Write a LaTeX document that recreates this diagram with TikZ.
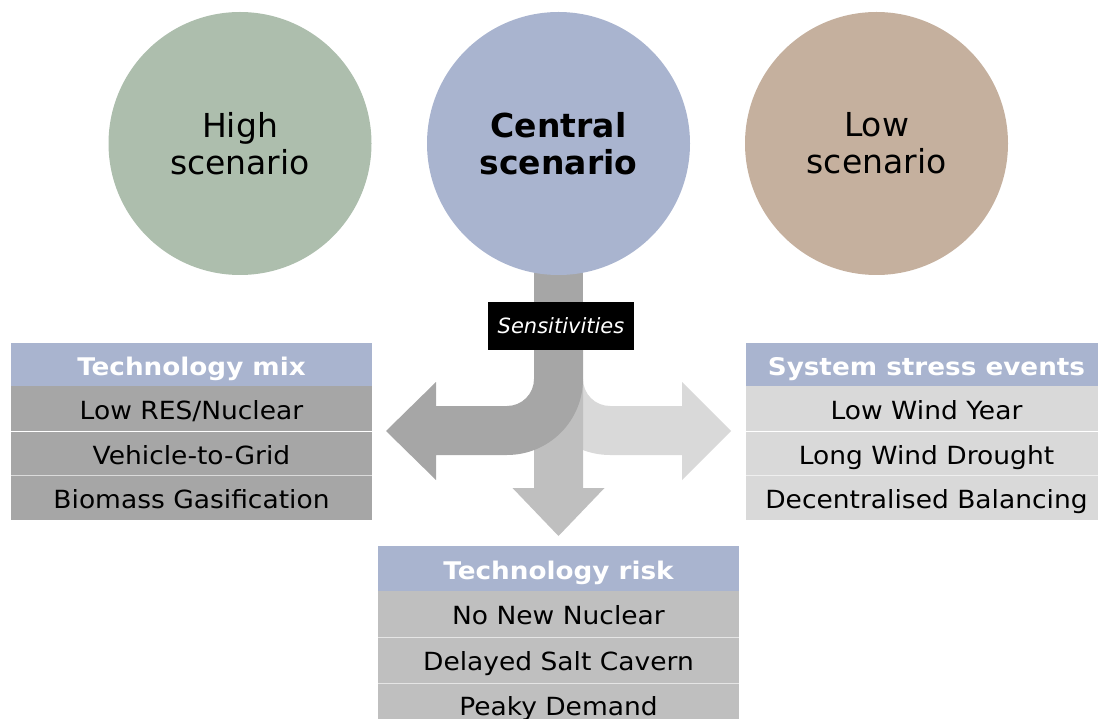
\documentclass[tikz,border=0pt]{standalone}
\usepackage{fontspec}
\setmainfont{DejaVu Sans}
\newfontfamily\rowfont[FakeStretch=1.06]{DejaVu Sans}
\newfontfamily\hdrfont[FakeStretch=1.08]{DejaVu Sans Bold}
\definecolor{highgreen}{HTML}{ADBEAD}
\definecolor{centralblue}{HTML}{A9B4CF}
\definecolor{lowtan}{HTML}{C5B09E}
\definecolor{darkgrey}{HTML}{A6A6A6}
\definecolor{midgrey}{HTML}{BFBFBF}
\definecolor{lightgrey}{HTML}{D9D9D9}
\begin{document}
\begin{tikzpicture}[x=1pt,y=-1pt,
  scen/.style={circle, minimum size=263pt, inner sep=0pt, align=center,
    font=\fontsize{33}{37}\selectfont},
  cell/.style={minimum width=361pt, minimum height=45pt, inner sep=0pt,
    text height=21pt, text depth=0pt, font=\rowfont\fontsize{25}{30}\selectfont},
  hdr/.style={cell, fill=centralblue, text=white,
    font=\hdrfont\fontsize{24.3}{28}\selectfont},
  sep/.style={white, opacity=0.6, line width=0.7pt}]
\clip (0,0) rectangle (1098,719);

% three scenario circles
\node[scen, fill=highgreen] (high) at (240,143.5) {High\\scenario};
% stem leaving the central circle (drawn first so the circle sits on top)
\fill[darkgrey] (534,250) rectangle (583,380);
\node[scen, fill=centralblue, font=\fontsize{33}{37}\selectfont\bfseries]
  (central) at (558.5,143.5) {Central\\scenario};
\node[scen, fill=lowtan] (low) at (876.5,143.5) {Low\\scenario};

% right branch: curved arrow to system stress events
\fill[lightgrey] (583,379) arc (180:90:27) -- (682,406) -- (682,382)
  -- (731,431) -- (682,480) -- (682,455) -- (610,455) arc (90:180:76)
  -- cycle;
% downward branch: technology risk
\fill[midgrey] (534,379) -- (534,488) -- (512.5,488) -- (558.5,536)
  -- (604.5,488) -- (583,488) -- (583,379) -- cycle;
% left branch: curved arrow to technology mix
\fill[darkgrey] (534,330) -- (534,379) arc (0:90:27) -- (436,406)
  -- (436,382) -- (386,431) -- (436,480) -- (436,455) -- (507,455)
  arc (90:0:76) -- (583,330) -- cycle;

\node[fill=black, text=white, minimum width=146pt, minimum height=48pt,
  inner sep=0pt, text height=15pt, text depth=0pt, xshift=2pt,
  font=\fontsize{21}{25}\selectfont\itshape] (sens) at (559,326) {Sensitivities};

% technology mix
\node[hdr, minimum height=43pt] (mixh) at (191.5,364.5) {Technology mix};
\node[cell, fill=darkgrey] (mix1) at (191.5,408.5) {Low RES/Nuclear};
\node[cell, fill=darkgrey, minimum height=44pt] (mix2) at (191.5,453.5) {Vehicle-to-Grid};
\node[cell, fill=darkgrey, minimum height=44pt] (mix3) at (191.5,498) {Biomass Gasification};
\draw[sep] (mix1.south west) -- (mix1.south east);
\draw[sep] (mix2.south west) -- (mix2.south east);

% system stress events
\node[hdr, minimum height=43pt] (sysh) at (926.5,364.5) {System stress events};
\node[cell, fill=lightgrey] (sys1) at (926.5,408.5) {Low Wind Year};
\node[cell, fill=lightgrey, minimum height=44pt] (sys2) at (926.5,453.5) {Long Wind Drought};
\node[cell, fill=lightgrey, minimum height=44pt] (sys3) at (926.5,498) {Decentralised Balancing};
\draw[sep] (sys1.south west) -- (sys1.south east);
\draw[sep] (sys2.south west) -- (sys2.south east);

% technology risk
\node[hdr] (riskh) at (558.5,568.5) {Technology risk};
\node[cell, fill=midgrey, minimum height=46pt] (risk1) at (558.5,614) {No New Nuclear};
\node[cell, fill=midgrey, minimum height=46pt] (risk2) at (558.5,660) {Delayed Salt Cavern};
\node[cell, fill=midgrey, minimum height=46pt, text height=18pt] (risk3) at (558.5,706) {Peaky Demand};
\draw[sep] (risk1.south west) -- (risk1.south east);
\draw[sep] (risk2.south west) -- (risk2.south east);
\end{tikzpicture}
\end{document}
